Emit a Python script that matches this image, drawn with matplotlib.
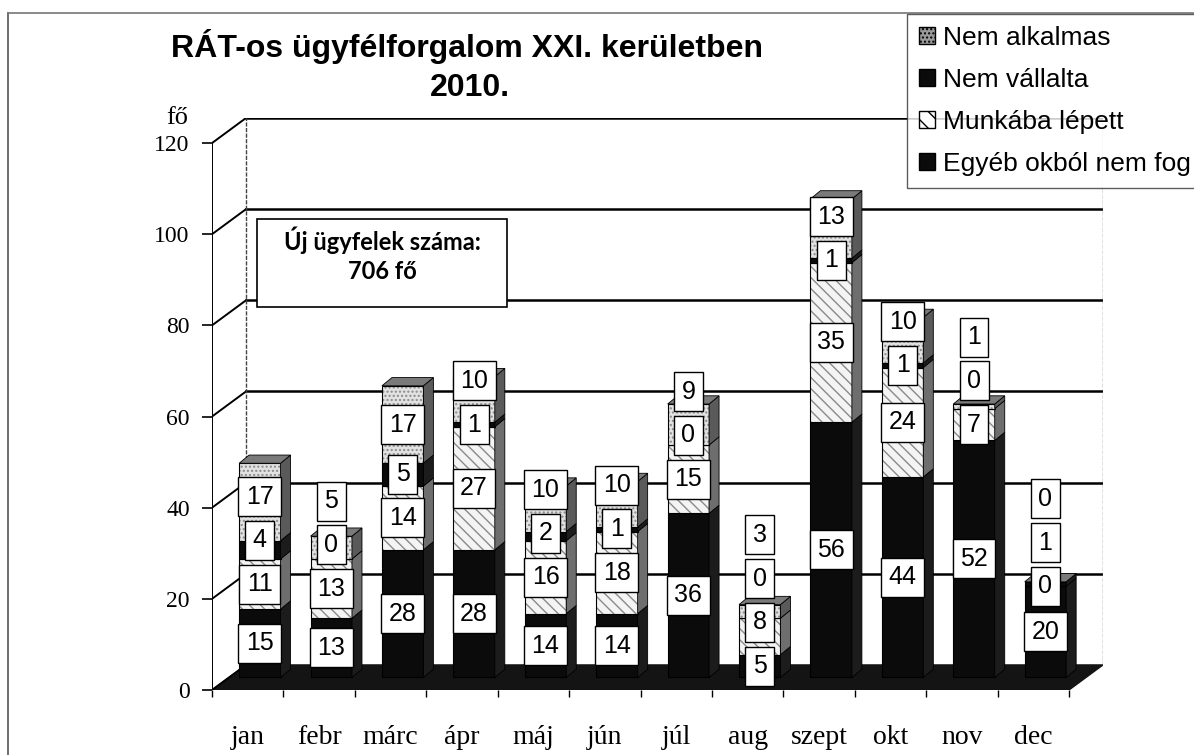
import numpy as np
import matplotlib.pyplot as plt
from matplotlib.patches import Polygon, Patch, Rectangle
from matplotlib.lines import Line2D

# data
months = ['jan', 'febr', 'márc', 'ápr', 'máj', 'jún', 'júl', 'aug',
          'szept', 'okt', 'nov', 'dec']
egyeb = [15, 13, 28, 28, 14, 14, 36, 5, 56, 44, 52, 20]
munkaba = [11, 13, 14, 27, 16, 18, 15, 8, 35, 24, 7, 0]
nem_vallalta = [4, 0, 5, 1, 2, 1, 0, 0, 1, 1, 0, 1]
nem_alkalmas = [17, 5, 17, 10, 10, 10, 9, 3, 13, 10, 1, 0]

series = [egyeb, munkaba, nem_vallalta, nem_alkalmas]
names = ['Egyéb okból nem fog', 'Munkába lépett', 'Nem vállalta', 'Nem alkalmas']

# styles (front face, side face, hatch)
front = ['#0b0b0b', '#f4f4f4', '#0b0b0b', '#e2e2e2']
side = ['#1c1c1c', '#6e6e6e', '#1c1c1c', '#5a5a5a']
hatch = [None, '\\\\\\', None, '....']

serif = 'Liberation Serif'
sans = 'Liberation Sans'

fig = plt.figure(figsize=(11.94, 7.55), dpi=100)
ax = fig.add_axes([212/1194, 65/755, (1103-212)/1194, (690-118)/755])

n = len(months)
dx, dy = 0.476, 5.5          # depth of the 3d box (category units / value units)
ax.set_xlim(0, n + dx)
ax.set_ylim(0, 120 + dy)
for s in ax.spines.values():
    s.set_visible(False)

# floor
ax.add_patch(Polygon([(0, 0), (n, 0), (n + dx, dy), (dx, dy)], closed=True,
                     facecolor='#141414', edgecolor='#141414', zorder=1))
# back wall, gridlines and left wall
for v in range(20, 121, 20):
    ax.plot([dx, n + dx], [v + dy, v + dy], color='black', lw=1.8, zorder=1)
for v in range(0, 121, 20):
    ax.plot([0, dx], [v, v + dy], color='black', lw=1.4, zorder=1)
ax.plot([dx, dx], [dy, 120 + dy], color='#444', lw=1, ls=(0, (3, 1)), zorder=1)
ax.plot([n + dx, n + dx], [dy, 120 + dy], color='#666', lw=1, ls=(0, (3, 1)), zorder=1)
ax.plot([0, 0], [0, 120], color='black', lw=1.4, zorder=2)

# 3d stacked columns
x = np.arange(n)
xl = x + 0.38
w = 0.58
bx, by = 0.14, 1.8
base = np.full(n, dy / 2)
for k in range(4):
    vals = np.array(series[k], dtype=float)
    if hatch[k]:
        ax.bar(xl, vals, w, bottom=base, align='edge', color=front[k],
               edgecolor='#8a8a8a', hatch=hatch[k], lw=0, zorder=3)
        ax.bar(xl, vals, w, bottom=base, align='edge', fill=False,
               edgecolor='black', lw=0.8, zorder=3)
    else:
        ax.bar(xl, vals, w, bottom=base, align='edge', color=front[k],
               edgecolor='black', lw=0.8, zorder=3)
    for i in range(n):
        if vals[i] <= 0:
            continue
        x1 = xl[i] + w
        y0, y1 = base[i], base[i] + vals[i]
        ax.add_patch(Polygon([(x1, y0), (x1 + bx, y0 + by), (x1 + bx, y1 + by), (x1, y1)],
                             closed=True, facecolor=side[k], edgecolor='black',
                             lw=0.6, zorder=3))
    base = base + vals

# top faces
for i in range(n):
    t = base[i]
    ax.add_patch(Polygon([(xl[i], t), (xl[i] + bx, t + by), (xl[i] + w + bx, t + by),
                          (xl[i] + w, t)], closed=True, facecolor='#7a7a7a',
                         edgecolor='black', lw=0.6, zorder=3))

# data labels: segment centres, pushed up when boxes would collide
gap = 9.6
base = np.full(n, dy / 2)
last = np.full(n, -100.0)
for k in range(4):
    vals = np.array(series[k], dtype=float)
    for i in range(n):
        yy = max(base[i] + vals[i] / 2, last[i] + gap)
        last[i] = yy
        ax.text(xl[i] + w / 2, yy, str(int(vals[i])),
                ha='center', va='center', fontsize=18, family=sans, zorder=5 + k,
                bbox=dict(boxstyle='square,pad=0.3', facecolor='white',
                          edgecolor='black', lw=1))
    base = base + vals

# axes ticks
ax.set_yticks(range(0, 121, 20))
ax.tick_params(axis='y', length=7, width=1.2, pad=9, labelsize=17)
for lab in ax.get_yticklabels():
    lab.set_family(serif)
ax.set_xticks(x + 0.5)
ax.set_xticklabels(months, family=serif, fontsize=20)
ax.tick_params(axis='x', length=0, pad=25)
ax.set_xticks(np.arange(n + 1), minor=True)
ax.tick_params(axis='x', which='minor', length=5, width=1)

# text
fig.text(467/1194, 1 - 47/755, 'RÁT-os ügyfélforgalom XXI. kerületben',
         ha='center', va='center', fontsize=23, fontweight='bold', family=sans)
fig.text(470/1194, 1 - 88/755, '2010.', ha='center', va='center',
         fontsize=23, fontweight='bold', family=sans)
fig.text(177/1194, 1 - 118/755, 'fő', ha='center', va='center',
         fontsize=19, family=serif)

# info box
fig.patches.append(Rectangle((257/1194, 1 - 307/755), 250/1194, 88/755,
                             transform=fig.transFigure, facecolor='white',
                             edgecolor='black', lw=1.2, zorder=10))
fig.text(382/1194, 1 - 240/755, 'Új ügyfelek száma:', ha='center', va='center',
         fontsize=17, fontweight='bold', family='Lato', zorder=11)
fig.text(382/1194, 1 - 272/755, '706 fő', ha='center', va='center',
         fontsize=17, fontweight='bold', family='Lato', zorder=11)

# legend
handles = [Patch(facecolor='#9a9a9a', edgecolor='black', hatch='....'),
           Patch(facecolor='#0b0b0b', edgecolor='black'),
           Patch(facecolor='white', edgecolor='black', hatch='\\\\'),
           Patch(facecolor='#0b0b0b', edgecolor='black')]
leg = fig.legend(handles, names[::-1], loc='upper left',
                 bbox_to_anchor=(907/1194, 1 - 14/755), frameon=True,
                 fancybox=False, edgecolor='#333333', handlelength=0.6,
                 handleheight=0.6, handletextpad=0.3, labelspacing=0.68,
                 borderpad=0.45, borderaxespad=0,
                 prop={'family': sans, 'size': 19})
leg.get_frame().set_linewidth(1)

# outer frame of the scanned page
fig.add_artist(Line2D([8/1194, 8/1194], [0, 1 - 13/755], color='#555', lw=1.2,
                      transform=fig.transFigure))
fig.add_artist(Line2D([8/1194, 1], [1 - 13/755, 1 - 13/755], color='#777', lw=1.2,
                      transform=fig.transFigure))

plt.savefig('out.png', dpi=100)
